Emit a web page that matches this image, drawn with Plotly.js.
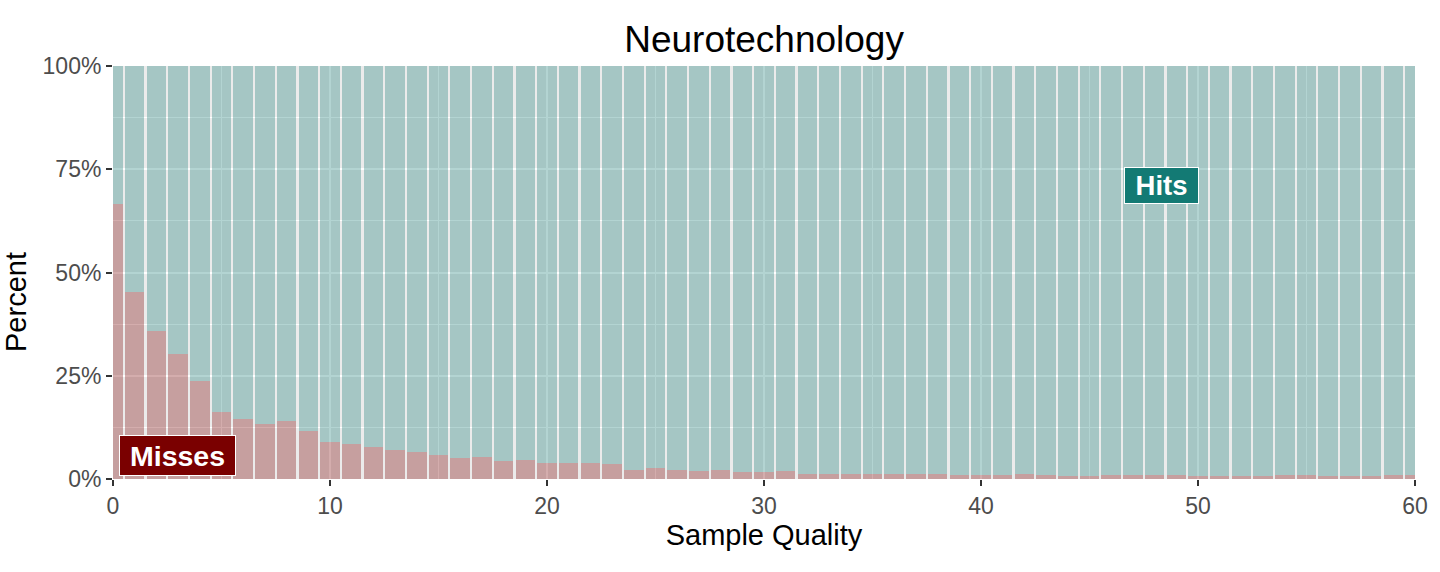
<!DOCTYPE html>
<html>
<head>
<meta charset="utf-8">
<script src="https://cdn.plot.ly/plotly-3.0.1.min.js"></script>
<style>html,body{margin:0;padding:0;background:#fff;}#chart{width:1440px;height:572px;}</style>
</head>
<body>
<div id="chart"></div>
<script>
const sampleQuality = [0,1,2,3,4,5,6,7,8,9,10,11,12,13,14,15,16,17,18,19,20,21,22,23,24,25,26,27,28,29,30,31,32,33,34,35,36,37,38,39,40,41,42,43,44,45,46,47,48,49,50,51,52,53,54,55,56,57,58,59,60];
const missesPct = [66.6,45.3,35.8,30.3,23.7,16.3,14.6,13.4,14.1,11.7,
  9.0,8.5,7.7,7.0,6.5,5.8,5.1,5.3,4.4,4.6,
  3.9,3.9,3.9,3.6,2.3,2.6,2.3,1.9,2.1,1.6,
  1.6,1.9,1.3,1.1,1.3,1.2,1.2,1.2,1.2,1.0,
  1.0,1.0,1.2,1.0,0.8,0.8,1.0,1.0,1.0,1.0,
  0.8,0.8,0.8,0.8,1.0,1.0,0.8,0.8,0.8,1.0,
  1.0];
const hitsPct = [33.4,54.7,64.2,69.7,76.3,83.7,85.4,86.6,85.9,88.3,
  91.0,91.5,92.3,93.0,93.5,94.2,94.9,94.7,95.6,95.4,
  96.1,96.1,96.1,96.4,97.7,97.4,97.7,98.1,97.9,98.4,
  98.4,98.1,98.7,98.9,98.7,98.8,98.8,98.8,98.8,99.0,
  99.0,99.0,98.8,99.0,99.2,99.2,99.0,99.0,99.0,99.0,
  99.2,99.2,99.2,99.2,99.0,99.0,99.2,99.2,99.2,99.0,
  99.0];
const yTickVals = [0,25,50,75,100];
const yTickText = ['0%','25%','50%','75%','100%'];
const xTickVals = [0,10,20,30,40,50,60];

const FONT = '"Liberation Sans", Arial, Helvetica, sans-serif';

const traces = [
  {type:'bar', name:'Misses', x:sampleQuality, y:missesPct, width:0.9,
   marker:{color:'rgba(122,0,0,0.32)', line:{width:0}}, hoverinfo:'skip'},
  {type:'bar', name:'Hits', x:sampleQuality, y:hitsPct, width:0.9,
   marker:{color:'rgba(19,122,116,0.32)', line:{width:0}}, hoverinfo:'skip'}
];

const layout = {
  width:1440, height:572,
  barmode:'stack', bargap:0,
  showlegend:false,
  paper_bgcolor:'#FFFFFF', plot_bgcolor:'#EBEBEB',
  margin:{l:113, r:25, t:66, b:93},
  font:{family:FONT, color:'#000'},
  title:{text:'Neurotechnology', font:{family:FONT, size:37, color:'#000'},
         x:0.5306, xanchor:'center', xref:'container', y:0.932, yref:'container', yanchor:'middle'},
  xaxis:{range:[0,60], tickvals:xTickVals, ticks:'outside', ticklen:6, tickwidth:2, tickcolor:'#333333',
         tickfont:{family:FONT, size:23, color:'#4D4D4D'},
         showgrid:true, gridcolor:'#FFFFFF', gridwidth:2, zeroline:false, showline:false,
         minor:{dtick:5, tick0:0, showgrid:true, gridcolor:'#FFFFFF', gridwidth:1, ticks:''},
         title:{text:'Sample Quality', font:{family:FONT, size:29, color:'#000'}, standoff:6}},
  yaxis:{range:[0,100], tickvals:yTickVals, ticktext:yTickText, ticks:'outside', ticklen:6, tickwidth:2, tickcolor:'#333333',
         tickfont:{family:FONT, size:23, color:'#4D4D4D'},
         showgrid:true, gridcolor:'#FFFFFF', gridwidth:2, zeroline:false, showline:false,
         minor:{dtick:12.5, tick0:0, showgrid:true, gridcolor:'#FFFFFF', gridwidth:1, ticks:''}},
  annotations:[
    {text:'Percent', textangle:-90, xref:'paper', yref:'paper', x:-97/1302, y:(479-302)/413,
     xanchor:'center', yanchor:'middle', showarrow:false, font:{family:FONT, size:29, color:'#000'}},
    {text:'<b>Misses</b>', x:2.97, y:5.6, xref:'x', yref:'y', showarrow:false, width:109, height:33,
     font:{family:FONT, size:28.5, color:'#FFFFFF'}, bgcolor:'#7A0000', bordercolor:'#FFFFFF', borderwidth:1, borderpad:3},
    {text:'<b>Hits</b>', x:48.3, y:71, xref:'x', yref:'y', showarrow:false, width:67, height:29,
     font:{family:FONT, size:27.5, color:'#FFFFFF'}, bgcolor:'#137A74', bordercolor:'#FFFFFF', borderwidth:1, borderpad:3}
  ]
};

Plotly.newPlot('chart', traces, layout, {staticPlot:true, displayModeBar:false});
</script>
</body>
</html>
